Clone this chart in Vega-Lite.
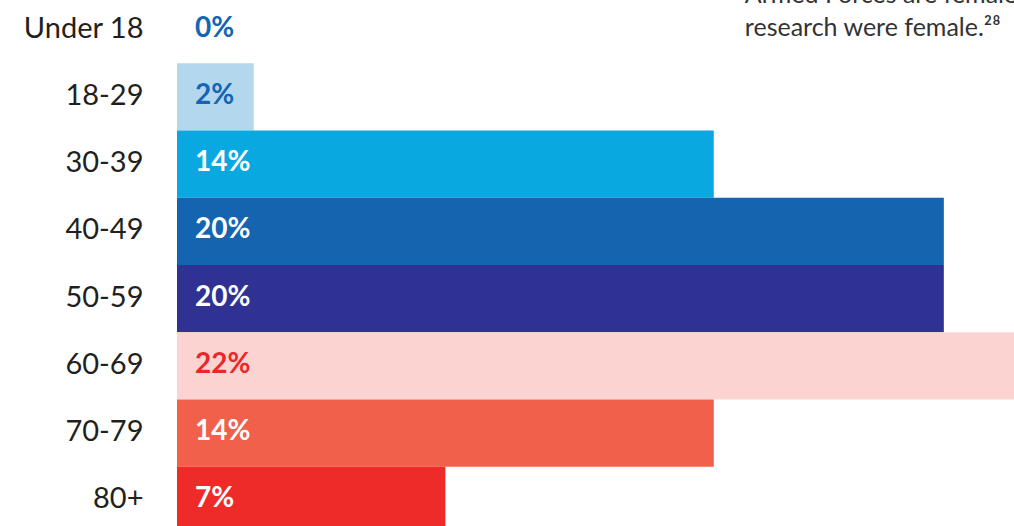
{
  "$schema": "https://vega.github.io/schema/vega-lite/v6.json",
  "width": 837,
  "height": 538,
  "autosize": {"type": "none"},
  "padding": {"left": 177, "top": -4, "right": 0, "bottom": 0},
  "background": "white",
  "config": {"view": {"stroke": null}, "font": "Lato"},
  "data": {"values": [
    {"age": "Under 18", "pct": 0, "label": "0%", "bar": "#b3d8ee", "txt": "#1565b5"},
    {"age": "18-29", "pct": 2, "label": "2%", "bar": "#b3d8ee", "txt": "#1565b5"},
    {"age": "30-39", "pct": 14, "label": "14%", "bar": "#0aa8e0", "txt": "#ffffff"},
    {"age": "40-49", "pct": 20, "label": "20%", "bar": "#1464b0", "txt": "#ffffff"},
    {"age": "50-59", "pct": 20, "label": "20%", "bar": "#303293", "txt": "#ffffff"},
    {"age": "60-69", "pct": 22, "label": "22%", "bar": "#fbd3d1", "txt": "#e8282b"},
    {"age": "70-79", "pct": 14, "label": "14%", "bar": "#f0604a", "txt": "#ffffff"},
    {"age": "80+", "pct": 7, "label": "7%", "bar": "#ee2b29", "txt": "#ffffff"}
  ]},
  "encoding": {
    "y": {"field": "age", "type": "nominal", "sort": null,
      "scale": {"paddingInner": 0, "paddingOuter": 0},
      "axis": {"title": null, "ticks": false, "domain": false, "labelPadding": 34,
        "labelFontSize": 29, "labelColor": "#231f20", "labelFont": "Lato", "labelOffset": -1}}
  },
  "layer": [
    {"mark": {"type": "bar", "clip": true},
     "encoding": {
       "x": {"field": "pct", "type": "quantitative", "scale": {"domain": [0, 21.83], "nice": false}, "axis": null},
       "color": {"field": "bar", "type": "nominal", "scale": null}
     }},
    {"mark": {"type": "text", "align": "left", "baseline": "middle", "dx": 18, "dy": -1, "fontSize": 28, "fontWeight": "bold", "font": "Lato"},
     "encoding": {
       "x": {"datum": 0, "type": "quantitative", "scale": {"domain": [0, 21.83], "nice": false}},
       "text": {"field": "label"},
       "color": {"field": "txt", "type": "nominal", "scale": null}
     }},
    {"data": {"values": [{"age": "Under 18", "pos": 14.81, "note": ["Armed Forces are female", "research were female.²⁸"]}]},
     "mark": {"type": "text", "align": "left", "baseline": "alphabetic", "dy": -27, "lineHeight": 33, "fontSize": 25, "color": "#333333", "font": "Lato"},
     "encoding": {
       "x": {"field": "pos", "type": "quantitative", "scale": {"domain": [0, 21.83], "nice": false}},
       "y": {"field": "age", "type": "nominal", "sort": null},
       "text": {"field": "note"}
     }}
  ]
}
